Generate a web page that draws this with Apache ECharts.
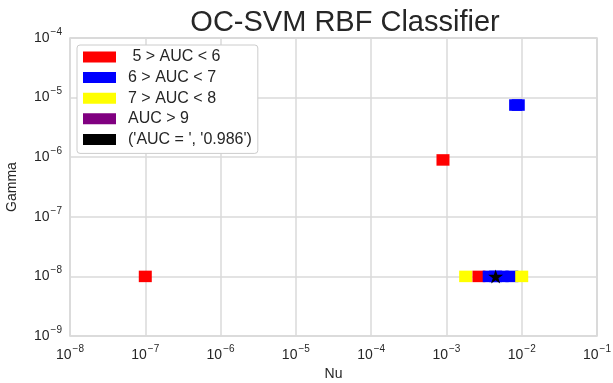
<!DOCTYPE html>
<html>
<head>
<meta charset="utf-8">
<script src="https://cdn.jsdelivr.net/npm/echarts@6/dist/echarts.min.js"></script>
<style>
  html, body { margin: 0; padding: 0; background: #fff; }
  #main { width: 613px; height: 383px; }
</style>
</head>
<body>
<div id="main"></div>
<script>
// legend labels, in the order they appear
var legendNames = [' 5 > AUC < 6', '6 > AUC < 7', '7 > AUC < 8', 'AUC > 9', "('AUC = ', '0.986')"];
var legendColors = ['#ff0000', '#0000ff', '#ffff00', '#800080', '#000000'];

// points (nu, gamma)
var redNu = [1e-7, 0.0009, 0.0027];
var redGamma = [1e-8, 9e-7, 1e-8];
var blueNu = [0.0083, 0.009, 0.0037, 0.0045, 0.0055, 0.0074];
var blueGamma = [7.5e-6, 7.5e-6, 1e-8, 1e-8, 1e-8, 1e-8];
var yellowNu = [0.0018, 0.01];
var yellowGamma = [1e-8, 1e-8];
var purpleNu = [];
var purpleGamma = [];
var bestNu = [0.0045];
var bestGamma = [1e-8];

// axis ranges (powers of ten)
var nuMin = 1e-8, nuMax = 1e-1;
var gammaMin = 1e-9, gammaMax = 1e-4;

function pairs(xs, ys) {
  var out = [];
  for (var i = 0; i < xs.length; i++) out.push([xs[i], ys[i]]);
  return out;
}

function powLabel(v) {
  var e = Math.round(Math.log10(v));
  return '{b|10}{s|' + (e < 0 ? '\u2212' : '') + Math.abs(e) + '}';
}

var labelRich = {
  b: { fontSize: 14, color: '#262626', fontFamily: 'Liberation Sans' },
  s: { fontSize: 10, color: '#262626', fontFamily: 'Liberation Sans', padding: [0, 0, 12, 1] }
};

var starPath = 'path://M50,0 L61,35 L98,35 L68,57 L79,91 L50,70 L21,91 L32,57 L2,35 L39,35 Z';

var chart = echarts.init(document.getElementById('main'), null, { renderer: 'canvas' });

var sq = [13, 11.5];
var option = {
  backgroundColor: '#ffffff',
  animation: false,
  title: {
    text: 'OC-SVM RBF Classifier',
    left: 340,
    top: 3,
    textAlign: 'center',
    textStyle: { fontSize: 29, fontWeight: 'normal', color: '#262626', fontFamily: 'Liberation Sans' }
  },
  legend: {
    data: legendNames.map(function (n) { return { name: n, icon: 'rect' }; }),
    orient: 'vertical',
    left: 77,
    top: 45,
    itemWidth: 33,
    itemHeight: 11,
    itemGap: 4.6,
    padding: [4, 6, 6, 6],
    backgroundColor: '#ffffff',
    borderColor: '#cccccc',
    borderWidth: 1,
    borderRadius: 3,
    textStyle: { fontSize: 16, color: '#262626', fontFamily: 'Liberation Sans', lineHeight: 11, padding: [0, 0, 0, 7] }
  },
  grid: {
    left: 70, right: 16, top: 38, bottom: 47,
    outerBoundsMode: 'none',
    containLabel: false,
    show: true,
    borderColor: '#d6d6d6',
    borderWidth: 1.5
  },
  xAxis: {
    type: 'log',
    logBase: 10,
    min: nuMin,
    max: nuMax,
    interval: 1,
    name: 'Nu',
    nameLocation: 'middle',
    nameGap: 31,
    nameTextStyle: { fontSize: 14, color: '#262626', fontFamily: 'Liberation Sans' },
    axisLine: { show: false },
    axisTick: { show: false },
    minorTick: { show: false },
    axisLabel: { formatter: powLabel, rich: labelRich, margin: 8 },
    splitLine: { show: true, lineStyle: { color: '#dadada', width: 1.5 } }
  },
  yAxis: {
    type: 'log',
    logBase: 10,
    min: gammaMin,
    max: gammaMax,
    interval: 1,
    name: 'Gamma',
    nameLocation: 'middle',
    nameGap: 51,
    nameTextStyle: { fontSize: 14, color: '#262626', fontFamily: 'Liberation Sans' },
    axisLine: { show: false },
    axisTick: { show: false },
    axisLabel: { formatter: powLabel, rich: labelRich, margin: 8 },
    splitLine: { show: true, lineStyle: { color: '#dadada', width: 1.5 } }
  },
  series: [
    { name: legendNames[0], type: 'scatter', symbol: 'rect', symbolSize: sq, itemStyle: { color: legendColors[0], opacity: 1 }, data: pairs(redNu, redGamma) },
    { name: legendNames[1], type: 'scatter', symbol: 'rect', symbolSize: sq, itemStyle: { color: legendColors[1], opacity: 1 }, data: pairs(blueNu, blueGamma) },
    { name: legendNames[2], type: 'scatter', symbol: 'rect', symbolSize: sq, itemStyle: { color: legendColors[2], opacity: 1 }, data: pairs(yellowNu, yellowGamma) },
    { name: legendNames[3], type: 'scatter', symbol: 'rect', symbolSize: sq, itemStyle: { color: legendColors[3], opacity: 1 }, data: pairs(purpleNu, purpleGamma) },
    { name: legendNames[4], type: 'scatter', symbol: starPath, symbolSize: [15, 14], itemStyle: { color: legendColors[4], opacity: 1 }, data: pairs(bestNu, bestGamma) }
  ]
};
chart.setOption(option);
</script>
</body>
</html>
